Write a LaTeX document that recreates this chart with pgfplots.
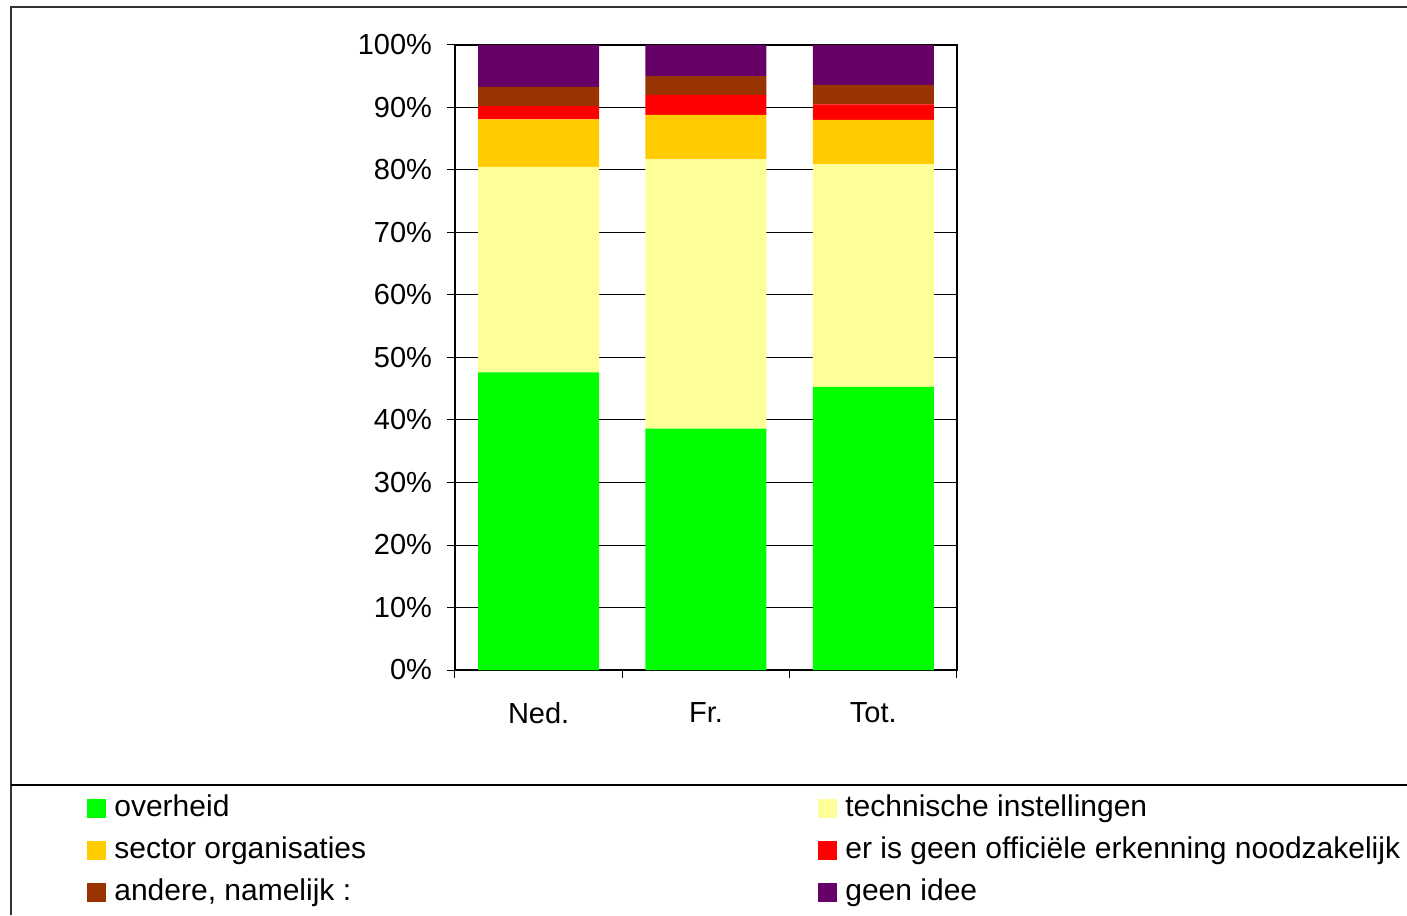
\documentclass[border=0pt]{standalone}
\usepackage{fontspec}
\setmainfont{Liberation Sans}
\usepackage{pgfplots}
\pgfplotsset{compat=1.18}
\definecolor{cGreen}{HTML}{00FF00}
\definecolor{cYellow}{HTML}{FFFF99}
\definecolor{cOrange}{HTML}{FFCC00}
\definecolor{cRed}{HTML}{FF0000}
\definecolor{cBrown}{HTML}{993300}
\definecolor{cPurple}{HTML}{660066}
\begin{document}
\begin{tikzpicture}
\useasboundingbox (-227.5pt,-122.5pt) rectangle (476pt,335pt);
\fill[white] (-227.5pt,-122.5pt) rectangle (476pt,335pt);
\draw[line width=1pt, black!80] (-221.75pt,-122.5pt) -- (-221.75pt,331.5pt) -- (476pt,331.5pt);
\draw[line width=0.6pt] (-221.75pt,-57.5pt) -- (476pt,-57.5pt);
\begin{axis}[
  scale only axis, width=251pt, height=312.5pt,
  ybar stacked, bar width=60.5pt,
  xmin=-0.5, xmax=2.5, ymin=0, ymax=100,
  xtick={-0.5,0.5,1.5,2.5}, xticklabels={},
  extra x ticks={0,1,2}, extra x tick labels={Ned.,Fr.,Tot.},
  extra x tick style={major tick length=0pt, tick label style={yshift=-12.5pt}},
  ytick={0,10,...,100},
  yticklabels={0\%,10\%,20\%,30\%,40\%,50\%,60\%,70\%,80\%,90\%,100\%},
  yticklabel style={xshift=-4pt},
  tick pos=left, tick align=outside, major tick length=4pt,
  tick style={black, line width=0.5pt},
  ymajorgrids, major grid style={black, line width=0.5pt},
  axis line style={line width=1.4pt, black},
  tick label style={font=\fontsize{14.5}{17}\selectfont},
  legend columns=2,
  legend cell align=left,
  legend image code/.code={\fill[#1] (0pt,-4.75pt) rectangle (9.5pt,4.75pt);},
  legend style={at={(-0.7331,-0.1984)}, anchor=north west, draw=none, fill=none,
    inner sep=0pt, column sep=4pt, row sep=6.5pt,
    font=\fontsize{15}{18}\selectfont,
    nodes={inner sep=0pt, text height=11pt, text depth=3.5pt}},
]
\addplot[fill=cGreen, draw=none] coordinates {(0,47.6) (1,38.6) (2,45.3)};
\addlegendentry{\makebox[348pt][l]{overheid}}
\addplot[fill=cYellow, draw=none] coordinates {(0,32.9) (1,43.1) (2,35.6)};
\addlegendentry{technische instellingen}
\addplot[fill=cOrange, draw=none] coordinates {(0,7.6) (1,7.1) (2,7.1)};
\addlegendentry{\makebox[348pt][l]{sector organisaties}}
\addplot[fill=cRed, draw=none] coordinates {(0,2.1) (1,3.2) (2,2.5)};
\addlegendentry{er is geen officiële erkenning noodzakelijk}
\addplot[fill=cBrown, draw=none] coordinates {(0,3.1) (1,3.0) (2,3.1)};
\addlegendentry{\makebox[348pt][l]{andere, namelijk :}}
\addplot[fill=cPurple, draw=none] coordinates {(0,6.7) (1,5.0) (2,6.4)};
\addlegendentry{geen idee}
\end{axis}
\end{tikzpicture}
\end{document}
